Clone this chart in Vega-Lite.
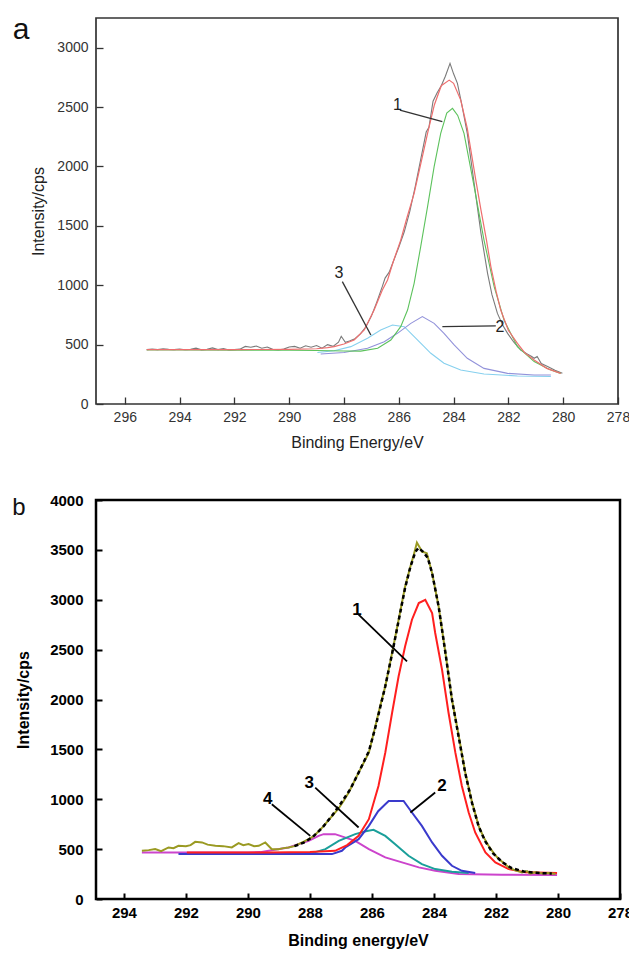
{
  "$schema": "https://vega.github.io/schema/vega-lite/v6.json",
  "padding": {"left": 11, "top": 14, "right": 0, "bottom": 0},
  "bounds": "flush",
  "spacing": 96,
  "config": {"font": "Liberation Sans", "view": {"fill": "white"}},
  "datasets": {
    "a": [
      {"s":"raw","x":295.2,"y":458},{"s":"raw","x":295.0,"y":462},{"s":"raw","x":294.8,"y":458},{"s":"raw","x":294.6,"y":465},{"s":"raw","x":294.4,"y":460},{"s":"raw","x":294.2,"y":458},{"s":"raw","x":294.0,"y":462},{"s":"raw","x":293.8,"y":457},{"s":"raw","x":293.6,"y":460},{"s":"raw","x":293.4,"y":470},{"s":"raw","x":293.2,"y":456},{"s":"raw","x":293.0,"y":460},{"s":"raw","x":292.8,"y":472},{"s":"raw","x":292.6,"y":458},{"s":"raw","x":292.4,"y":466},{"s":"raw","x":292.2,"y":455},{"s":"raw","x":292.0,"y":458},{"s":"raw","x":291.8,"y":462},{"s":"raw","x":291.6,"y":485},{"s":"raw","x":291.4,"y":478},{"s":"raw","x":291.2,"y":488},{"s":"raw","x":291.0,"y":470},{"s":"raw","x":290.8,"y":480},{"s":"raw","x":290.6,"y":460},{"s":"raw","x":290.4,"y":455},{"s":"raw","x":290.2,"y":462},{"s":"raw","x":290.0,"y":480},{"s":"raw","x":289.8,"y":485},{"s":"raw","x":289.6,"y":470},{"s":"raw","x":289.4,"y":490},{"s":"raw","x":289.2,"y":478},{"s":"raw","x":289.0,"y":492},{"s":"raw","x":288.8,"y":470},{"s":"raw","x":288.6,"y":500},{"s":"raw","x":288.4,"y":485},{"s":"raw","x":288.2,"y":520},{"s":"raw","x":288.1,"y":570},{"s":"raw","x":287.95,"y":520},{"s":"raw","x":287.8,"y":530},{"s":"raw","x":287.6,"y":550},{"s":"raw","x":287.4,"y":590},{"s":"raw","x":287.2,"y":650},{"s":"raw","x":287.0,"y":740},{"s":"raw","x":286.8,"y":860},{"s":"raw","x":286.6,"y":990},{"s":"raw","x":286.5,"y":1060},{"s":"raw","x":286.35,"y":1110},{"s":"raw","x":286.2,"y":1200},{"s":"raw","x":286.0,"y":1320},{"s":"raw","x":285.8,"y":1450},{"s":"raw","x":285.6,"y":1620},{"s":"raw","x":285.4,"y":1830},{"s":"raw","x":285.2,"y":2060},{"s":"raw","x":285.0,"y":2290},{"s":"raw","x":284.9,"y":2330},{"s":"raw","x":284.75,"y":2550},{"s":"raw","x":284.6,"y":2620},{"s":"raw","x":284.45,"y":2680},{"s":"raw","x":284.3,"y":2760},{"s":"raw","x":284.13,"y":2868},{"s":"raw","x":284.0,"y":2780},{"s":"raw","x":283.86,"y":2700},{"s":"raw","x":283.7,"y":2520},{"s":"raw","x":283.5,"y":2279},{"s":"raw","x":283.25,"y":1858},{"s":"raw","x":283.0,"y":1437},{"s":"raw","x":282.76,"y":1100},{"s":"raw","x":282.6,"y":920},{"s":"raw","x":282.4,"y":763},{"s":"raw","x":282.2,"y":660},{"s":"raw","x":282.03,"y":595},{"s":"raw","x":281.8,"y":520},{"s":"raw","x":281.55,"y":455},{"s":"raw","x":281.3,"y":420},{"s":"raw","x":281.15,"y":400},{"s":"raw","x":281.06,"y":385},{"s":"raw","x":280.95,"y":400},{"s":"raw","x":280.8,"y":340},{"s":"raw","x":280.57,"y":315},{"s":"raw","x":280.3,"y":285},{"s":"raw","x":280.03,"y":258},
      {"s":"env","x":295.2,"y":458},{"s":"env","x":294,"y":458},{"s":"env","x":292,"y":458},{"s":"env","x":290,"y":460},{"s":"env","x":289,"y":465},{"s":"env","x":288.6,"y":475},{"s":"env","x":288.36,"y":483},{"s":"env","x":288.0,"y":505},{"s":"env","x":287.63,"y":539},{"s":"env","x":287.26,"y":623},{"s":"env","x":286.9,"y":791},{"s":"env","x":286.6,"y":960},{"s":"env","x":286.41,"y":1044},{"s":"env","x":286.2,"y":1200},{"s":"env","x":285.93,"y":1380},{"s":"env","x":285.7,"y":1570},{"s":"env","x":285.44,"y":1773},{"s":"env","x":285.2,"y":2020},{"s":"env","x":284.95,"y":2279},{"s":"env","x":284.7,"y":2520},{"s":"env","x":284.45,"y":2680},{"s":"env","x":284.16,"y":2727},{"s":"env","x":284.0,"y":2700},{"s":"env","x":283.74,"y":2559},{"s":"env","x":283.5,"y":2320},{"s":"env","x":283.37,"y":2138},{"s":"env","x":283.2,"y":1900},{"s":"env","x":283.0,"y":1633},{"s":"env","x":282.8,"y":1380},{"s":"env","x":282.64,"y":1157},{"s":"env","x":282.45,"y":950},{"s":"env","x":282.28,"y":791},{"s":"env","x":282.0,"y":620},{"s":"env","x":281.67,"y":511},{"s":"env","x":281.4,"y":430},{"s":"env","x":281.06,"y":370},{"s":"env","x":280.6,"y":300},{"s":"env","x":280.09,"y":258},
      {"s":"c1","x":295.2,"y":455},{"s":"c1","x":294,"y":455},{"s":"c1","x":292,"y":454},{"s":"c1","x":290,"y":452},{"s":"c1","x":289,"y":450},{"s":"c1","x":288.0,"y":446},{"s":"c1","x":287.39,"y":445},{"s":"c1","x":286.77,"y":469},{"s":"c1","x":286.29,"y":539},{"s":"c1","x":285.93,"y":651},{"s":"c1","x":285.68,"y":791},{"s":"c1","x":285.44,"y":1016},{"s":"c1","x":285.2,"y":1325},{"s":"c1","x":284.95,"y":1662},{"s":"c1","x":284.71,"y":1998},{"s":"c1","x":284.47,"y":2279},{"s":"c1","x":284.25,"y":2450},{"s":"c1","x":284.04,"y":2489},{"s":"c1","x":283.85,"y":2430},{"s":"c1","x":283.62,"y":2279},{"s":"c1","x":283.25,"y":1830},{"s":"c1","x":282.89,"y":1380},{"s":"c1","x":282.52,"y":988},{"s":"c1","x":282.16,"y":707},{"s":"c1","x":281.67,"y":483},{"s":"c1","x":281.06,"y":357},{"s":"c1","x":280.5,"y":290},{"s":"c1","x":280.09,"y":258},
      {"s":"c2","x":288.85,"y":421},{"s":"c2","x":288.0,"y":433},{"s":"c2","x":287.14,"y":469},{"s":"c2","x":286.53,"y":525},{"s":"c2","x":286.05,"y":595},{"s":"c2","x":285.56,"y":679},{"s":"c2","x":285.14,"y":736},{"s":"c2","x":284.71,"y":679},{"s":"c2","x":284.35,"y":595},{"s":"c2","x":283.98,"y":497},{"s":"c2","x":283.5,"y":385},{"s":"c2","x":282.89,"y":300},{"s":"c2","x":282.03,"y":258},{"s":"c2","x":281.06,"y":244},{"s":"c2","x":280.45,"y":244},
      {"s":"c3","x":288.97,"y":433},{"s":"c3","x":288.36,"y":449},{"s":"c3","x":287.75,"y":483},{"s":"c3","x":287.14,"y":553},{"s":"c3","x":286.66,"y":623},{"s":"c3","x":286.23,"y":665},{"s":"c3","x":285.8,"y":651},{"s":"c3","x":285.32,"y":539},{"s":"c3","x":284.83,"y":427},{"s":"c3","x":284.35,"y":343},{"s":"c3","x":283.74,"y":286},{"s":"c3","x":282.89,"y":253},{"s":"c3","x":281.67,"y":236},{"s":"c3","x":280.45,"y":231}
    ],
    "annA": [
      {"x":285.96,"y":2475,"x2":284.41,"y2":2377},
      {"x":284.41,"y":652,"x2":282.46,"y2":657},
      {"x":288.06,"y":1030,"x2":287.02,"y2":581}
    ],
    "lblA": [
      {"t":"1","x":286.05,"y":2517},
      {"t":"2","x":282.31,"y":652},
      {"t":"3","x":288.18,"y":1100}
    ],
    "tagA": [{"t":"a","x":300.09,"y":3073}],
    "b": [
      {"s":"raw","x":293.42,"y":483},{"s":"raw","x":293.2,"y":490},{"s":"raw","x":292.99,"y":500},{"s":"raw","x":292.8,"y":480},{"s":"raw","x":292.56,"y":517},{"s":"raw","x":292.4,"y":510},{"s":"raw","x":292.24,"y":533},{"s":"raw","x":292.0,"y":530},{"s":"raw","x":291.85,"y":540},{"s":"raw","x":291.7,"y":573},{"s":"raw","x":291.48,"y":567},{"s":"raw","x":291.3,"y":545},{"s":"raw","x":291.05,"y":533},{"s":"raw","x":290.8,"y":530},{"s":"raw","x":290.52,"y":517},{"s":"raw","x":290.3,"y":560},{"s":"raw","x":290.15,"y":540},{"s":"raw","x":289.98,"y":550},{"s":"raw","x":289.8,"y":530},{"s":"raw","x":289.65,"y":533},{"s":"raw","x":289.44,"y":567},{"s":"raw","x":289.23,"y":500},{"s":"raw","x":289.01,"y":500},{"s":"raw","x":288.85,"y":510},{"s":"raw","x":288.69,"y":517},{"s":"raw","x":288.5,"y":530},{"s":"raw","x":288.37,"y":550},{"s":"raw","x":288.2,"y":575},{"s":"raw","x":288.04,"y":600},{"s":"raw","x":287.88,"y":630},{"s":"raw","x":287.72,"y":680},{"s":"raw","x":287.56,"y":730},{"s":"raw","x":287.4,"y":790},{"s":"raw","x":287.23,"y":850},{"s":"raw","x":287.07,"y":910},{"s":"raw","x":286.9,"y":990},{"s":"raw","x":286.75,"y":1067},{"s":"raw","x":286.6,"y":1160},{"s":"raw","x":286.43,"y":1267},{"s":"raw","x":286.26,"y":1370},{"s":"raw","x":286.1,"y":1467},{"s":"raw","x":285.89,"y":1733},{"s":"raw","x":285.73,"y":1940},{"s":"raw","x":285.57,"y":2133},{"s":"raw","x":285.35,"y":2467},{"s":"raw","x":285.14,"y":2800},{"s":"raw","x":284.93,"y":3133},{"s":"raw","x":284.76,"y":3333},{"s":"raw","x":284.65,"y":3450},{"s":"raw","x":284.55,"y":3573},{"s":"raw","x":284.45,"y":3520},{"s":"raw","x":284.39,"y":3483},{"s":"raw","x":284.23,"y":3467},{"s":"raw","x":284.06,"y":3267},{"s":"raw","x":283.85,"y":2933},{"s":"raw","x":283.63,"y":2467},{"s":"raw","x":283.42,"y":2000},{"s":"raw","x":283.2,"y":1633},{"s":"raw","x":282.99,"y":1267},{"s":"raw","x":282.77,"y":967},{"s":"raw","x":282.56,"y":733},{"s":"raw","x":282.4,"y":620},{"s":"raw","x":282.24,"y":533},{"s":"raw","x":282.05,"y":450},{"s":"raw","x":281.91,"y":400},{"s":"raw","x":281.75,"y":360},{"s":"raw","x":281.59,"y":317},{"s":"raw","x":281.4,"y":290},{"s":"raw","x":281.16,"y":267},{"s":"raw","x":281.0,"y":280},{"s":"raw","x":280.9,"y":255},{"s":"raw","x":280.73,"y":267},{"s":"raw","x":280.5,"y":255},{"s":"raw","x":280.3,"y":260},{"s":"raw","x":280.08,"y":250},
      {"s":"env","x":288.5,"y":530},{"s":"env","x":288.2,"y":565},{"s":"env","x":287.9,"y":625},{"s":"env","x":287.6,"y":715},{"s":"env","x":287.3,"y":830},{"s":"env","x":287.0,"y":960},{"s":"env","x":286.7,"y":1100},{"s":"env","x":286.43,"y":1267},{"s":"env","x":286.1,"y":1480},{"s":"env","x":285.89,"y":1720},{"s":"env","x":285.57,"y":2133},{"s":"env","x":285.35,"y":2460},{"s":"env","x":285.14,"y":2790},{"s":"env","x":284.93,"y":3120},{"s":"env","x":284.76,"y":3330},{"s":"env","x":284.6,"y":3480},{"s":"env","x":284.5,"y":3520},{"s":"env","x":284.35,"y":3480},{"s":"env","x":284.2,"y":3420},{"s":"env","x":284.06,"y":3267},{"s":"env","x":283.85,"y":2933},{"s":"env","x":283.63,"y":2467},{"s":"env","x":283.42,"y":2000},{"s":"env","x":283.2,"y":1620},{"s":"env","x":282.99,"y":1260},{"s":"env","x":282.77,"y":960},{"s":"env","x":282.56,"y":730},{"s":"env","x":282.35,"y":580},{"s":"env","x":282.1,"y":460},{"s":"env","x":281.8,"y":370},{"s":"env","x":281.5,"y":310},{"s":"env","x":281.1,"y":275},{"s":"env","x":280.6,"y":260},{"s":"env","x":280.2,"y":255},
      {"s":"c1","x":291.97,"y":467},{"s":"c1","x":290,"y":467},{"s":"c1","x":289.33,"y":467},{"s":"c1","x":288,"y":470},{"s":"c1","x":287.19,"y":483},{"s":"c1","x":286.8,"y":540},{"s":"c1","x":286.43,"y":633},{"s":"c1","x":286.1,"y":800},{"s":"c1","x":285.79,"y":1133},{"s":"c1","x":285.57,"y":1467},{"s":"c1","x":285.35,"y":1867},{"s":"c1","x":285.14,"y":2233},{"s":"c1","x":284.93,"y":2533},{"s":"c1","x":284.71,"y":2800},{"s":"c1","x":284.49,"y":2967},{"s":"c1","x":284.28,"y":3000},{"s":"c1","x":284.06,"y":2867},{"s":"c1","x":283.96,"y":2667},{"s":"c1","x":283.74,"y":2300},{"s":"c1","x":283.53,"y":1867},{"s":"c1","x":283.31,"y":1467},{"s":"c1","x":283.1,"y":1133},{"s":"c1","x":282.88,"y":867},{"s":"c1","x":282.67,"y":667},{"s":"c1","x":282.34,"y":467},{"s":"c1","x":282.02,"y":367},{"s":"c1","x":281.59,"y":300},{"s":"c1","x":281.05,"y":267},{"s":"c1","x":280.03,"y":260},
      {"s":"c2","x":292.24,"y":450},{"s":"c2","x":290,"y":450},{"s":"c2","x":288,"y":450},{"s":"c2","x":287.29,"y":450},{"s":"c2","x":286.97,"y":483},{"s":"c2","x":286.86,"y":517},{"s":"c2","x":286.43,"y":600},{"s":"c2","x":286.1,"y":733},{"s":"c2","x":285.8,"y":880},{"s":"c2","x":285.57,"y":950},{"s":"c2","x":285.46,"y":983},{"s":"c2","x":284.98,"y":983},{"s":"c2","x":284.71,"y":867},{"s":"c2","x":284.39,"y":733},{"s":"c2","x":284.06,"y":567},{"s":"c2","x":283.74,"y":433},{"s":"c2","x":283.42,"y":333},{"s":"c2","x":283.1,"y":283},{"s":"c2","x":282.67,"y":260},
      {"s":"c3","x":289.33,"y":450},{"s":"c3","x":288.04,"y":450},{"s":"c3","x":287.5,"y":500},{"s":"c3","x":287.07,"y":583},{"s":"c3","x":286.54,"y":650},{"s":"c3","x":286.2,"y":680},{"s":"c3","x":285.95,"y":693},{"s":"c3","x":285.57,"y":633},{"s":"c3","x":285.25,"y":550},{"s":"c3","x":284.82,"y":433},{"s":"c3","x":284.39,"y":350},{"s":"c3","x":283.96,"y":300},{"s":"c3","x":283.42,"y":273},{"s":"c3","x":282.88,"y":260},
      {"s":"c4","x":293.42,"y":467},{"s":"c4","x":292,"y":467},{"s":"c4","x":290,"y":467},{"s":"c4","x":289.6,"y":470},{"s":"c4","x":289.33,"y":483},{"s":"c4","x":288.69,"y":517},{"s":"c4","x":288.04,"y":583},{"s":"c4","x":287.72,"y":633},{"s":"c4","x":287.56,"y":650},{"s":"c4","x":287.19,"y":650},{"s":"c4","x":286.9,"y":620},{"s":"c4","x":286.54,"y":583},{"s":"c4","x":286.1,"y":500},{"s":"c4","x":285.57,"y":417},{"s":"c4","x":285.03,"y":367},{"s":"c4","x":284.49,"y":317},{"s":"c4","x":283.96,"y":283},{"s":"c4","x":283.2,"y":250},{"s":"c4","x":281.81,"y":243},{"s":"c4","x":280.03,"y":240}
    ],
    "annB": [
      {"x":286.43,"y":2850,"x2":284.87,"y2":2383},
      {"x":283.96,"y":1067,"x2":284.76,"y2":867},
      {"x":287.83,"y":1117,"x2":286.43,"y2":717},
      {"x":289.23,"y":950,"x2":287.99,"y2":633}
    ],
    "lblB": [
      {"t":"1","x":286.48,"y":2900},
      {"t":"2","x":283.74,"y":1133},
      {"t":"3","x":288.02,"y":1167},
      {"t":"4","x":289.36,"y":1000}
    ],
    "tagB": [{"t":"b","x":297.6,"y":3850}]
  },
  "vconcat": [
    {
      "width": 522,
      "height": 386,
      "view": {"stroke": "#333333", "strokeWidth": 1.7},
      "layer": [
        {
          "data": {"name": "a"},
          "transform": [{"filter": "datum.s === 'raw'"}],
          "mark": {"type": "line", "color": "#7a7a7a", "strokeWidth": 1.1},
          "encoding": {
            "x": {"field": "x", "type": "quantitative", "scale": {"domain": [297.05, 278], "nice": false, "zero": false},
              "axis": {"title": "Binding Energy/eV", "values": [278,279,280,281,282,283,284,285,286,287,288,289,290,291,292,293,294,295,296], "format": "d",
                "labelExpr": "datum.value % 2 === 0 ? datum.label : ''",
                "tickSize": {"condition": {"test": "datum.value % 2 === 0", "value": -7}, "value": -4},
                "domain": false, "grid": false, "tickColor": "#333333", "tickWidth": 1.3,
                "labelFont": "Liberation Sans", "labelFontSize": 14, "labelColor": "#333333", "labelPadding": 13, "labelFlush": false, "labelOverlap": false,
                "titleFont": "Liberation Sans", "titleFontSize": 16, "titleFontWeight": "normal", "titleColor": "#222222", "titlePadding": 10}},
            "y": {"field": "y", "type": "quantitative", "scale": {"domain": [0, 3250], "nice": false, "zero": false},
              "axis": {"title": "Intensity/cps", "values": [0,250,500,750,1000,1250,1500,1750,2000,2250,2500,2750,3000], "format": "d",
                "labelExpr": "datum.value % 500 === 0 ? datum.label : ''",
                "tickSize": {"condition": {"test": "datum.value % 500 === 0", "value": -7}, "value": -4},
                "domain": false, "grid": false, "tickColor": "#333333", "tickWidth": 1.3,
                "labelFont": "Liberation Sans", "labelFontSize": 14, "labelColor": "#333333", "labelPadding": 15, "labelFlush": false, "labelOverlap": false,
                "titleFont": "Liberation Sans", "titleFontSize": 16, "titleFontWeight": "normal", "titleColor": "#222222", "titlePadding": 10}}
          }
        },
        {
          "data": {"name": "a"},
          "transform": [{"filter": "datum.s === 'c3'"}],
          "mark": {"type": "line", "color": "#86d0ee", "strokeWidth": 1.1},
          "encoding": {
            "x": {"field": "x", "type": "quantitative", "scale": {"domain": [297.05, 278], "nice": false, "zero": false}},
            "y": {"field": "y", "type": "quantitative", "scale": {"domain": [0, 3250], "nice": false, "zero": false}}
          }
        },
        {
          "data": {"name": "a"},
          "transform": [{"filter": "datum.s === 'c2'"}],
          "mark": {"type": "line", "color": "#9292da", "strokeWidth": 1.1},
          "encoding": {
            "x": {"field": "x", "type": "quantitative", "scale": {"domain": [297.05, 278], "nice": false, "zero": false}},
            "y": {"field": "y", "type": "quantitative", "scale": {"domain": [0, 3250], "nice": false, "zero": false}}
          }
        },
        {
          "data": {"name": "a"},
          "transform": [{"filter": "datum.s === 'c1'"}],
          "mark": {"type": "line", "color": "#5cc25c", "strokeWidth": 1.1},
          "encoding": {
            "x": {"field": "x", "type": "quantitative", "scale": {"domain": [297.05, 278], "nice": false, "zero": false}},
            "y": {"field": "y", "type": "quantitative", "scale": {"domain": [0, 3250], "nice": false, "zero": false}}
          }
        },
        {
          "data": {"name": "a"},
          "transform": [{"filter": "datum.s === 'env'"}],
          "mark": {"type": "line", "color": "#ee6e6e", "strokeWidth": 1.2},
          "encoding": {
            "x": {"field": "x", "type": "quantitative", "scale": {"domain": [297.05, 278], "nice": false, "zero": false}},
            "y": {"field": "y", "type": "quantitative", "scale": {"domain": [0, 3250], "nice": false, "zero": false}}
          }
        },
        {
          "data": {"name": "annA"},
          "mark": {"type": "rule", "color": "#333333", "strokeWidth": 1.3},
          "encoding": {
            "x": {"field": "x", "type": "quantitative", "scale": {"domain": [297.05, 278], "nice": false, "zero": false}},
            "y": {"field": "y", "type": "quantitative", "scale": {"domain": [0, 3250], "nice": false, "zero": false}},
            "x2": {"field": "x2"},
            "y2": {"field": "y2"}
          }
        },
        {
          "data": {"name": "lblA"},
          "mark": {"type": "text", "fontSize": 16, "color": "#222222", "font": "Liberation Sans"},
          "encoding": {
            "x": {"field": "x", "type": "quantitative", "scale": {"domain": [297.05, 278], "nice": false, "zero": false}},
            "y": {"field": "y", "type": "quantitative", "scale": {"domain": [0, 3250], "nice": false, "zero": false}},
            "text": {"field": "t"}
          }
        },
        {
          "data": {"name": "tagA"},
          "mark": {"type": "text", "fontSize": 30, "color": "#111111", "align": "left", "baseline": "alphabetic", "font": "Liberation Sans"},
          "encoding": {
            "x": {"field": "x", "type": "quantitative", "scale": {"domain": [297.05, 278], "nice": false, "zero": false}},
            "y": {"field": "y", "type": "quantitative", "scale": {"domain": [0, 3250], "nice": false, "zero": false}},
            "text": {"field": "t"}
          }
        }
      ]
    },
    {
      "width": 524,
      "height": 399,
      "view": {"stroke": "#000000", "strokeWidth": 2.5},
      "layer": [
        {
          "data": {"name": "b"},
          "transform": [{"filter": "datum.s === 'c4'"}],
          "mark": {"type": "line", "color": "#cc44cc", "strokeWidth": 2},
          "encoding": {
            "x": {"field": "x", "type": "quantitative", "scale": {"domain": [294.9, 278], "nice": false, "zero": false},
              "axis": {"title": "Binding energy/eV", "values": [278,280,282,284,286,288,290,292,294], "format": "d",
                "tickSize": -6, "domain": false, "grid": false, "tickColor": "#000000", "tickWidth": 2,
                "labelFont": "Liberation Sans", "labelFontSize": 15, "labelFontWeight": "bold", "labelColor": "#000000", "labelPadding": 12, "labelFlush": false, "labelOverlap": false,
                "titleFont": "Liberation Sans", "titleFontSize": 16, "titleFontWeight": "bold", "titleColor": "#000000", "titlePadding": 12}},
            "y": {"field": "y", "type": "quantitative", "scale": {"domain": [0, 4000], "nice": false, "zero": false},
              "axis": {"title": "Intensity/cps", "values": [0,500,1000,1500,2000,2500,3000,3500,4000], "format": "d",
                "tickSize": -6, "domain": false, "grid": false, "tickColor": "#000000", "tickWidth": 2,
                "labelFont": "Liberation Sans", "labelFontSize": 15, "labelFontWeight": "bold", "labelColor": "#000000", "labelPadding": 19, "labelFlush": false, "labelOverlap": false,
                "titleFont": "Liberation Sans", "titleFontSize": 16, "titleFontWeight": "bold", "titleColor": "#000000", "titlePadding": 18}}
          }
        },
        {
          "data": {"name": "b"},
          "transform": [{"filter": "datum.s === 'c3'"}],
          "mark": {"type": "line", "color": "#1a9f9a", "strokeWidth": 2},
          "encoding": {
            "x": {"field": "x", "type": "quantitative", "scale": {"domain": [294.9, 278], "nice": false, "zero": false}},
            "y": {"field": "y", "type": "quantitative", "scale": {"domain": [0, 4000], "nice": false, "zero": false}}
          }
        },
        {
          "data": {"name": "b"},
          "transform": [{"filter": "datum.s === 'c2'"}],
          "mark": {"type": "line", "color": "#3a3acc", "strokeWidth": 2},
          "encoding": {
            "x": {"field": "x", "type": "quantitative", "scale": {"domain": [294.9, 278], "nice": false, "zero": false}},
            "y": {"field": "y", "type": "quantitative", "scale": {"domain": [0, 4000], "nice": false, "zero": false}}
          }
        },
        {
          "data": {"name": "b"},
          "transform": [{"filter": "datum.s === 'c1'"}],
          "mark": {"type": "line", "color": "#ff1f1f", "strokeWidth": 2},
          "encoding": {
            "x": {"field": "x", "type": "quantitative", "scale": {"domain": [294.9, 278], "nice": false, "zero": false}},
            "y": {"field": "y", "type": "quantitative", "scale": {"domain": [0, 4000], "nice": false, "zero": false}}
          }
        },
        {
          "data": {"name": "b"},
          "transform": [{"filter": "datum.s === 'raw'"}],
          "mark": {"type": "line", "color": "#9a9a22", "strokeWidth": 2},
          "encoding": {
            "x": {"field": "x", "type": "quantitative", "scale": {"domain": [294.9, 278], "nice": false, "zero": false}},
            "y": {"field": "y", "type": "quantitative", "scale": {"domain": [0, 4000], "nice": false, "zero": false}}
          }
        },
        {
          "data": {"name": "b"},
          "transform": [{"filter": "datum.s === 'env'"}],
          "mark": {"type": "line", "color": "#000000", "strokeWidth": 2.5, "strokeDash": [4, 3]},
          "encoding": {
            "x": {"field": "x", "type": "quantitative", "scale": {"domain": [294.9, 278], "nice": false, "zero": false}},
            "y": {"field": "y", "type": "quantitative", "scale": {"domain": [0, 4000], "nice": false, "zero": false}}
          }
        },
        {
          "data": {"name": "annB"},
          "mark": {"type": "rule", "color": "#000000", "strokeWidth": 1.8},
          "encoding": {
            "x": {"field": "x", "type": "quantitative", "scale": {"domain": [294.9, 278], "nice": false, "zero": false}},
            "y": {"field": "y", "type": "quantitative", "scale": {"domain": [0, 4000], "nice": false, "zero": false}},
            "x2": {"field": "x2"},
            "y2": {"field": "y2"}
          }
        },
        {
          "data": {"name": "lblB"},
          "mark": {"type": "text", "fontSize": 17, "fontWeight": "bold", "color": "#000000", "font": "Liberation Sans"},
          "encoding": {
            "x": {"field": "x", "type": "quantitative", "scale": {"domain": [294.9, 278], "nice": false, "zero": false}},
            "y": {"field": "y", "type": "quantitative", "scale": {"domain": [0, 4000], "nice": false, "zero": false}},
            "text": {"field": "t"}
          }
        },
        {
          "data": {"name": "tagB"},
          "mark": {"type": "text", "fontSize": 24, "color": "#111111", "align": "left", "baseline": "alphabetic", "font": "Liberation Sans"},
          "encoding": {
            "x": {"field": "x", "type": "quantitative", "scale": {"domain": [294.9, 278], "nice": false, "zero": false}},
            "y": {"field": "y", "type": "quantitative", "scale": {"domain": [0, 4000], "nice": false, "zero": false}},
            "text": {"field": "t"}
          }
        }
      ]
    }
  ]
}
